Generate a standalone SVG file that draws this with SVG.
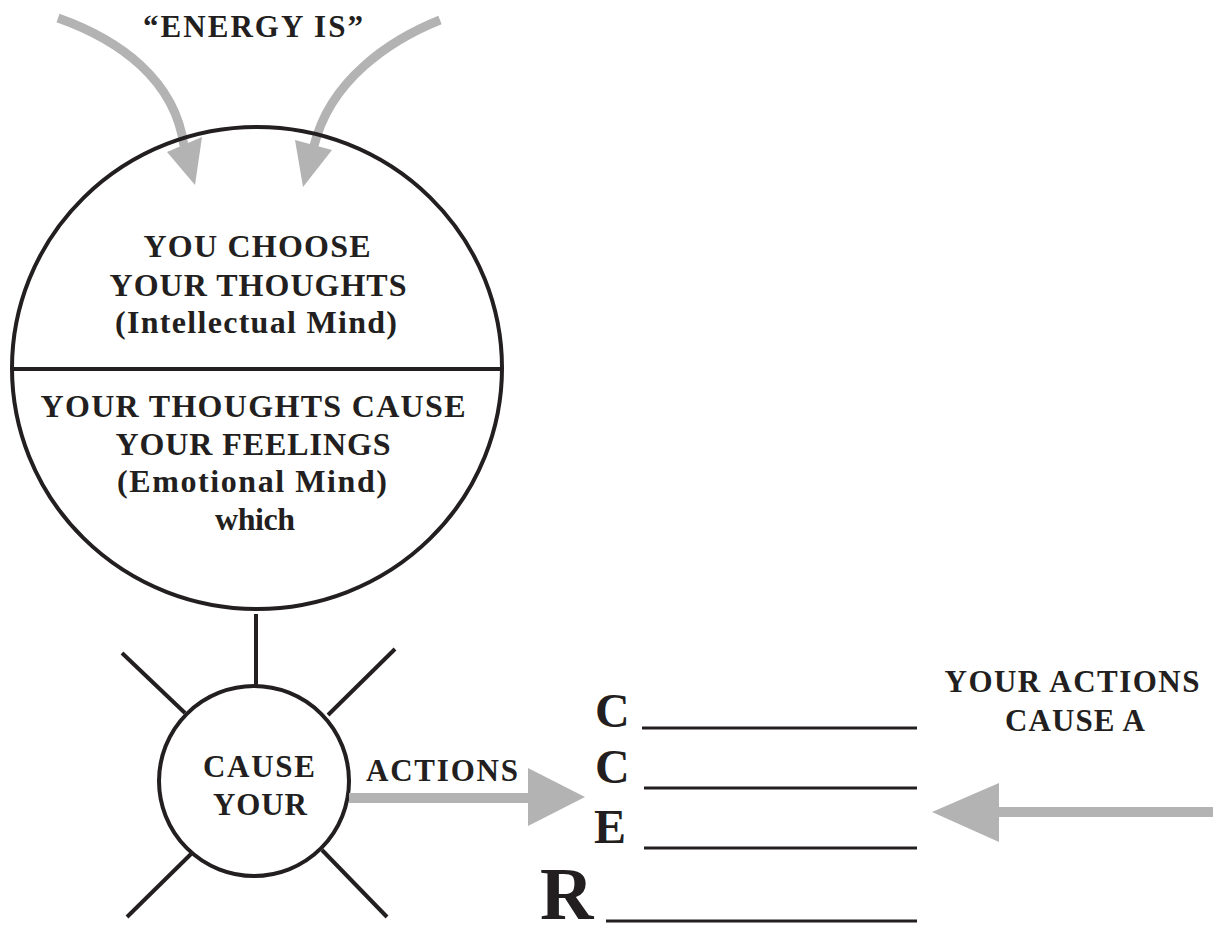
<svg xmlns="http://www.w3.org/2000/svg" width="1213" height="925" viewBox="0 0 1213 925">
  <style>
    .ink { fill: none; stroke: #231f20; stroke-width: 4; }
    .rule { stroke: #231f20; stroke-width: 3; }
    .shaft { fill: none; stroke: #b3b3b3; stroke-width: 9; }
    .head { fill: #b3b3b3; }
    text { font-family: "Liberation Serif", "Times New Roman", serif; font-weight: bold; fill: #231f20; text-anchor: middle; }
    .t32 { font-size: 32px; }
    .t31 { font-size: 31px; }
    .big { font-size: 48px; text-anchor: start; }
  </style>
  <rect width="1213" height="925" fill="#ffffff"/>

  <!-- energy arrows entering the mind -->
  <g id="energy">
    <text class="t31" x="253" y="37" textLength="220" lengthAdjust="spacing">“ENERGY IS”</text>
    <path class="shaft" d="M58,18 C120,40 175,80 184,146"/>
    <polygon class="head" points="167,152 202,137 195,185"/>
    <path class="shaft" d="M440,20 C390,40 330,80 314,146"/>
    <polygon class="head" points="295,140 332,150 303,187"/>
  </g>

  <!-- the mind: intellectual (top) and emotional (bottom) -->
  <g id="mind">
    <ellipse class="ink" cx="257" cy="368" rx="245" ry="241"/>
    <line class="ink" x1="12" y1="369" x2="502" y2="369"/>
    <text class="t32" x="257" y="257" textLength="227" lengthAdjust="spacing">YOU CHOOSE</text>
    <text class="t32" x="258" y="296" textLength="297" lengthAdjust="spacing">YOUR THOUGHTS</text>
    <text class="t32" x="256" y="333" textLength="282" lengthAdjust="spacing">(Intellectual Mind)</text>
    <text class="t32" x="253" y="417" textLength="425" lengthAdjust="spacing">YOUR THOUGHTS CAUSE</text>
    <text class="t32" x="253" y="455" textLength="275" lengthAdjust="spacing">YOUR FEELINGS</text>
    <text class="t32" x="252" y="492" textLength="270" lengthAdjust="spacing">(Emotional Mind)</text>
    <text class="t32" x="255" y="530" textLength="80" lengthAdjust="spacing">which</text>
  </g>

  <!-- radiating hub -->
  <g id="hub">
    <circle class="ink" cx="254" cy="781" r="95"/>
    <line class="ink" x1="122" y1="653" x2="185" y2="713"/>
    <line class="ink" x1="395" y1="649" x2="328" y2="715"/>
    <line class="ink" x1="191" y1="854" x2="127" y2="917"/>
    <line class="ink" x1="322" y1="850" x2="387" y2="917"/>
    <text class="t31" x="259" y="777" textLength="112" lengthAdjust="spacing">CAUSE</text>
    <text class="t31" x="260" y="815" textLength="94" lengthAdjust="spacing">YOUR</text>
  </g>

  <!-- C C E R list -->
  <g id="ccer">
    <text class="big" x="595" y="727">C</text>
    <text class="big" x="595" y="783">C</text>
    <text class="big" x="594" y="843">E</text>
    <text class="big" x="540" y="919" style="font-size:74px">R</text>
    <line class="rule" x1="642" y1="728" x2="917" y2="728"/>
    <line class="rule" x1="644" y1="788" x2="917" y2="788"/>
    <line class="rule" x1="644" y1="848" x2="917" y2="848"/>
    <line class="rule" x1="606" y1="921" x2="917" y2="921"/>
  </g>

  <g id="result-label">
    <text class="t31" x="1072" y="692" textLength="255" lengthAdjust="spacing">YOUR ACTIONS</text>
    <text class="t31" x="1075" y="731" textLength="140" lengthAdjust="spacing">CAUSE A</text>
  </g>

  <!-- connectors -->
  <g id="connectors">
    <text class="t31" x="442" y="781" textLength="152" lengthAdjust="spacing">ACTIONS</text>
    <rect class="head" x="349" y="793" width="181" height="10"/>
    <polygon class="head" points="528,768 585,797 528,826"/>
    <rect class="head" x="997" y="807" width="216" height="10"/>
    <polygon class="head" points="999,783 932,812 999,842"/>
    <line class="ink" x1="256" y1="614" x2="256" y2="686"/>
  </g>
</svg>
